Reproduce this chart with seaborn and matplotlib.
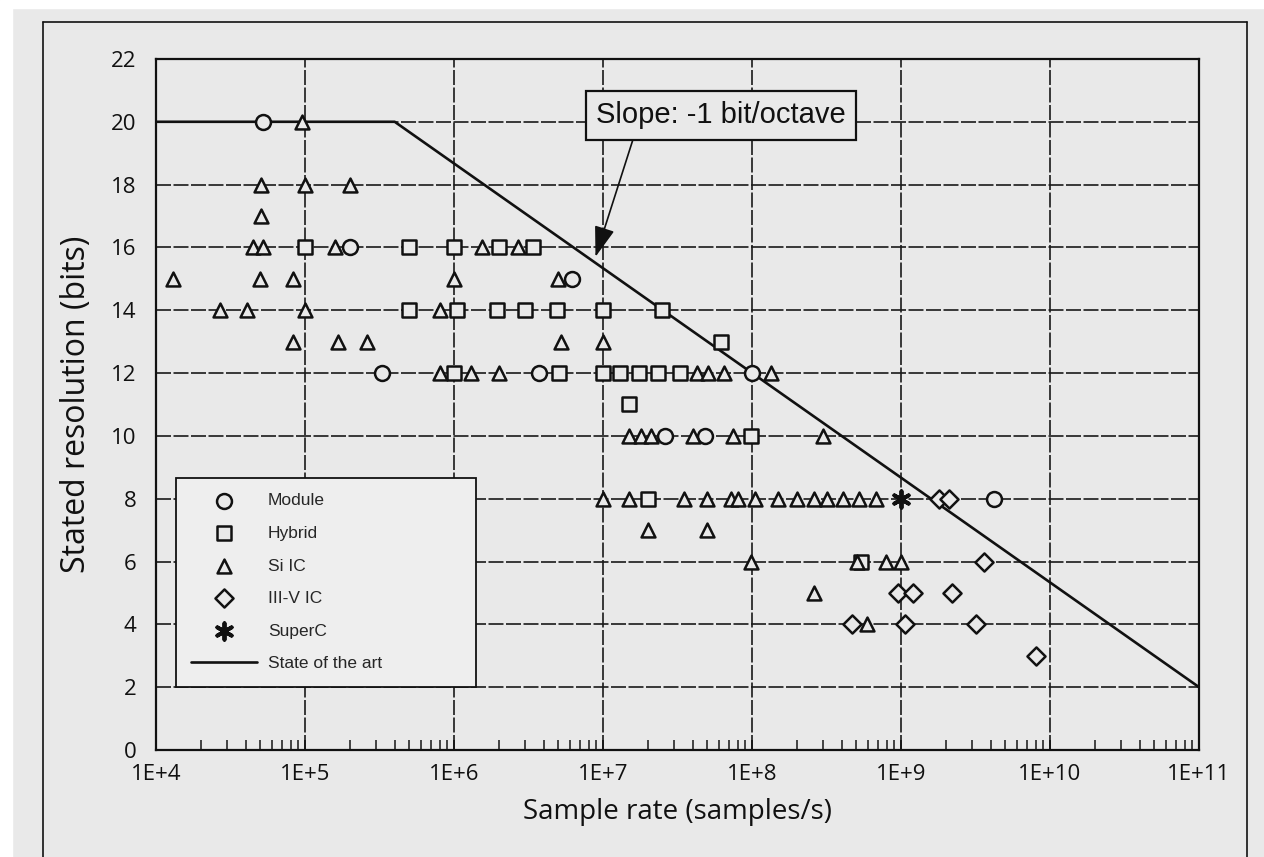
import matplotlib
matplotlib.use('Agg')
import matplotlib.pyplot as plt
import pandas as pd
import seaborn as sns
from matplotlib.lines import Line2D
from matplotlib.patches import Rectangle
from matplotlib.ticker import LogLocator, NullFormatter

# values (sample rate in samples/s, resolution in bits)
module_rate = [5.2e4, 2.0e5, 6.2e6, 3.3e5, 3.7e6, 1.0e8, 2.6e7, 4.8e7, 4.2e9]
module_bits = [20, 16, 15, 12, 12, 12, 10, 10, 8]

hybrid_rate = [1.0e5, 5.0e5, 1.0e6, 2.0e6, 3.4e6,
               5.0e5, 1.05e6, 1.95e6, 3.0e6, 4.9e6, 1.0e7, 2.5e7,
               6.2e7,
               1.0e6, 5.1e6, 1.0e7, 1.3e7, 1.75e7, 2.35e7, 3.3e7,
               1.5e7, 9.8e7, 2.0e7, 5.4e8]
hybrid_bits = [16, 16, 16, 16, 16,
               14, 14, 14, 14, 14, 14, 14,
               13,
               12, 12, 12, 12, 12, 12, 12,
               11, 10, 8, 6]

si_rate = [9.5e4,
           5.1e4, 1.0e5, 2.0e5,
           5.1e4,
           4.5e4, 5.2e4, 1.6e5, 1.55e6, 2.7e6,
           1.3e4, 5.0e4, 8.3e4, 1.0e6, 5.0e6,
           2.7e4, 4.1e4, 1.0e5, 8.1e5,
           8.3e4, 1.66e5, 2.6e5, 5.2e6, 1.0e7,
           8.1e5, 1.3e6, 2.0e6, 4.3e7, 5.1e7, 6.5e7, 1.35e8,
           1.5e7, 1.8e7, 2.1e7, 4.0e7, 7.4e7, 3.0e8,
           1.0e7, 1.5e7, 3.5e7, 5.0e7, 7.2e7, 8.1e7, 1.05e8, 1.5e8, 2.0e8,
           2.6e8, 3.2e8, 4.1e8, 5.2e8, 6.8e8,
           2.0e7, 5.0e7,
           9.8e7, 5.1e8, 7.9e8, 1.0e9,
           2.6e8,
           5.9e8]
si_bits = [20,
           18, 18, 18,
           17,
           16, 16, 16, 16, 16,
           15, 15, 15, 15, 15,
           14, 14, 14, 14,
           13, 13, 13, 13, 13,
           12, 12, 12, 12, 12, 12, 12,
           10, 10, 10, 10, 10, 10,
           8, 8, 8, 8, 8, 8, 8, 8, 8,
           8, 8, 8, 8, 8,
           7, 7,
           6, 6, 6, 6,
           5,
           4]

iiiv_rate = [1.8e9, 2.1e9, 3.6e9, 9.5e8, 1.2e9, 2.2e9, 4.7e8, 1.07e9, 3.2e9, 8.1e9]
iiiv_bits = [8, 8, 6, 5, 5, 5, 4, 4, 4, 3]

superc_rate = [1.0e9]
superc_bits = [8]

# state-of-the-art envelope: flat at 20 bits, then -1 bit/octave
soa_rate = [1e4, 4.0e5, 1e11]
soa_bits = [20, 20, 2]

x_ticks = [1e4, 1e5, 1e6, 1e7, 1e8, 1e9, 1e10, 1e11]
x_labels = ['1E+4', '1E+5', '1E+6', '1E+7', '1E+8', '1E+9', '1E+10', '1E+11']
y_ticks = [0, 2, 4, 6, 8, 10, 12, 14, 16, 18, 20, 22]

paper = '#e9e9e9'

sns.set_theme(style='ticks')
plt.rcParams['font.family'] = ['Open Sans', 'DejaVu Sans']
arial = ['Liberation Sans', 'DejaVu Sans']

fig = plt.figure(figsize=(12.64, 8.57), dpi=100, facecolor=paper)
ax = fig.add_axes([0.1234, 0.1249, 0.8252, 0.8063], facecolor=paper)

series = [
    ('Module', module_rate, module_bits, 'o', 115),
    ('Hybrid', hybrid_rate, hybrid_bits, 's', 100),
    ('Si IC', si_rate, si_bits, '^', 100),
    ('III-V IC', iiiv_rate, iiiv_bits, 'D', 85),
]
for label, rate, bits, marker, size in series:
    df = pd.DataFrame({'rate': rate, 'bits': bits})
    sns.scatterplot(data=df, x='rate', y='bits', ax=ax, marker=marker, s=size,
                    color=paper, edgecolor='#111111', linewidth=1.8,
                    label=label, zorder=4)

df = pd.DataFrame({'rate': superc_rate, 'bits': superc_bits})
sns.scatterplot(data=df, x='rate', y='bits', ax=ax, marker=(6, 2, 0), s=140,
                color='#111111', linewidth=2.8, label='SuperC', zorder=5)

sns.lineplot(x=soa_rate, y=soa_bits, ax=ax, sort=False, estimator=None,
             color='#111111', linewidth=1.9, label='State of the art', zorder=3)

ax.set_xscale('log')
ax.set_xlim(1e4, 1e11)
ax.set_ylim(0, 22)
ax.set_xticks(x_ticks, x_labels)
ax.set_yticks(y_ticks)
ax.xaxis.set_minor_locator(LogLocator(base=10, subs=range(2, 10), numticks=20))
ax.xaxis.set_minor_formatter(NullFormatter())

ax.grid(True, which='major', color='#1a1a1a', linewidth=1.2, linestyle=(0, (9, 1.5)))
ax.set_axisbelow(True)

ax.tick_params(axis='x', which='major', direction='in', length=7, width=1.2,
               pad=10, labelsize=16, colors='#111111', top=False)
ax.tick_params(axis='x', which='minor', direction='in', length=7, width=1.2, top=False)
ax.tick_params(axis='y', length=0, pad=14, labelsize=16, colors='#111111')
for sp in ax.spines.values():
    sp.set_visible(True)
    sp.set_color('#111111')
    sp.set_linewidth(1.6)

ax.set_xlabel('Sample rate (samples/s)', fontsize=20, color='#111111')
ax.set_ylabel('Stated resolution (bits)', fontsize=23, color='#111111')
ax.xaxis.set_label_coords(0.5, -0.07)
ax.yaxis.set_label_coords(-0.06, 0.5)

ax.annotate('Slope: -1 bit/octave', xy=(8.9e6, 15.7), xytext=(6.2e7, 20.2),
            ha='center', va='center', fontsize=21, family=arial, color='#111111',
            bbox=dict(boxstyle='square,pad=0.35', fc=paper, ec='#111111', lw=1.6),
            arrowprops=dict(arrowstyle='-|>,head_length=0.9,head_width=0.3',
                            color='#111111', lw=1.2, relpos=(0.16, 0.0),
                            shrinkA=0, shrinkB=0),
            zorder=6)

handles, labels = ax.get_legend_handles_labels()
hmap = dict(zip(labels, handles))
order = ['Module', 'Hybrid', 'Si IC', 'III-V IC', 'SuperC', 'State of the art']
leg = ax.legend([hmap[k] for k in order], order, loc='upper left',
                bbox_to_anchor=(0.019, 0.063, 0.288, 0.331), mode='expand',
                borderaxespad=0, fancybox=False, framealpha=1,
                prop={'family': arial, 'size': 12.5},
                labelspacing=1.0, borderpad=0.9, handlelength=3.8,
                handletextpad=0.6)
leg.get_frame().set_edgecolor('#111111')
leg.get_frame().set_linewidth(1.3)
leg.get_frame().set_facecolor('#eeeeee')
leg.set_zorder(7)

# scan margins and outer frame of the printed figure
fig.add_artist(Rectangle((0, 1 - 8 / 857), 1, 8 / 857, transform=fig.transFigure,
                         color='white', zorder=0))
fig.add_artist(Rectangle((0, 0), 12 / 1264, 1, transform=fig.transFigure,
                         color='white', zorder=0))
fx0, fx1, fy1 = 43 / 1264, 1247 / 1264, 1 - 22 / 857
for xs, ys in [([fx0, fx0], [0, fy1]), ([fx0, fx1], [fy1, fy1]), ([fx1, fx1], [fy1, 0])]:
    fig.add_artist(Line2D(xs, ys, transform=fig.transFigure, color='#111111', lw=1.2))

fig.savefig('out.png', dpi=100, facecolor=paper)
